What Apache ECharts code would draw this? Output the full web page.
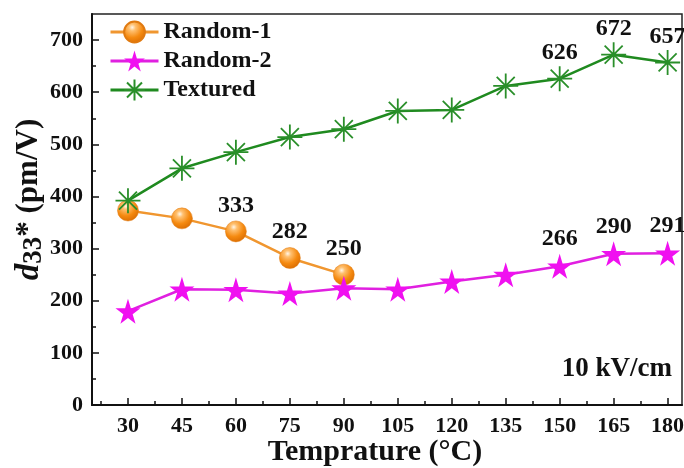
<!DOCTYPE html>
<html>
<head>
<meta charset="utf-8">
<script src="https://cdn.jsdelivr.net/npm/echarts/dist/echarts.min.js"></script>
<style>
html,body{margin:0;padding:0;background:#fff;}
#chart{width:684px;height:468px;}
</style>
</head>
<body>
<div id="chart"></div>
<script>
const temps = [30, 45, 60, 75, 90, 105, 120, 135, 150, 165, 180];
const random1 = [373, 358, 333, 282, 250];
const random2 = [180, 222, 221, 214, 224, 222, 237, 250, 266, 290, 291];
const textured = [392, 454, 485, 514, 529, 564, 566, 612, 626, 672, 657];
const random1Labels = [null, null, '333', '282', '250'];
const random2Labels = [null, null, null, null, null, null, null, null, '266', '290', '291'];
const texturedLabels = [null, null, null, null, null, null, null, null, '626', '672', '657'];
const xTicks = [30, 45, 60, 75, 90, 105, 120, 135, 150, 165, 180];
const xMinorTicks = [22.5, 37.5, 52.5, 67.5, 82.5, 97.5, 112.5, 127.5, 142.5, 157.5, 172.5];
const yTicks = [0, 100, 200, 300, 400, 500, 600, 700];
const yMinorTicks = [50, 150, 250, 350, 450, 550, 650];

const FONT = '"Liberation Serif","Times New Roman",serif';

function pairs(vals, labels) {
  return vals.map((v, i) => ({
    value: [temps[i], v],
    label: { show: labels[i] != null, formatter: labels[i] || '' }
  }));
}

const chart = echarts.init(document.getElementById('chart'));
const labelStyle = { position: 'top', distance: 3, fontFamily: FONT, fontWeight: 'bold', fontSize: 24, color: '#111' };

chart.setOption({
  animation: false,
  backgroundColor: '#fff',
  grid: { left: 92, top: 14, right: 2, bottom: 63, containLabel: false, outerBoundsMode: 'none',
          show: true, borderColor: '#222', borderWidth: 1.5, backgroundColor: 'transparent' },
  legend: {
    orient: 'vertical', left: 104, top: 15, itemWidth: 48, itemHeight: 26, itemGap: 5,
    lineStyle: { width: 3 },
    textStyle: { fontFamily: FONT, fontWeight: 'bold', fontSize: 24, color: '#111' },
    data: ['Random-1', 'Random-2', 'Textured']
  },
  xAxis: [{
    type: 'value', min: 20, max: 184,
    name: 'Temprature (°C)', nameLocation: 'middle', nameGap: 32, nameMoveOverlap: false,
    nameTextStyle: { fontFamily: FONT, fontWeight: 'bold', fontSize: 30, color: '#111', padding: [0, 24, 0, 0] },
    axisLine: { lineStyle: { color: '#111', width: 2 } },
    axisTick: { inside: true, length: 7, lineStyle: { width: 1.5, color: '#111' }, customValues: xTicks },
    axisLabel: { customValues: xTicks, margin: 10, fontFamily: FONT, fontWeight: 'bold', fontSize: 22, color: '#111' },
    splitLine: { show: false }
  }, {
    type: 'value', min: 20, max: 184, position: 'bottom',
    axisLine: { show: false },
    axisTick: { inside: true, length: 4, lineStyle: { width: 1.5, color: '#111' }, customValues: xMinorTicks },
    axisLabel: { show: false },
    splitLine: { show: false }
  }],
  yAxis: [{
    type: 'value', min: 0, max: 750,
    name: '{d|d}{s|33}{n|* (pm/V)}', nameLocation: 'middle', nameGap: 44, nameRotate: 90, nameMoveOverlap: false,
    nameTextStyle: {
      padding: [0, 0, 0, 20],
      rich: {
        d: { fontFamily: FONT, fontWeight: 'bold', fontStyle: 'italic', fontSize: 33, color: '#111', lineHeight: 38 },
        s: { fontFamily: FONT, fontWeight: 'bold', fontSize: 27, color: '#111', verticalAlign: 'bottom', lineHeight: 38 },
        n: { fontFamily: FONT, fontWeight: 'bold', fontSize: 31, color: '#111', lineHeight: 38 }
      }
    },
    axisLine: { show: true, lineStyle: { color: '#111', width: 2 } },
    axisTick: { show: true, inside: true, length: 7, lineStyle: { width: 1.5, color: '#111' }, customValues: yTicks },
    axisLabel: { customValues: yTicks, margin: 9, fontFamily: FONT, fontWeight: 'bold', fontSize: 22, color: '#111' },
    splitLine: { show: false }
  }, {
    type: 'value', min: 0, max: 750, position: 'left',
    axisLine: { show: false },
    axisTick: { show: true, inside: true, length: 4, lineStyle: { width: 1.5, color: '#111' }, customValues: yMinorTicks },
    axisLabel: { show: false },
    splitLine: { show: false }
  }],
  graphic: [{
    type: 'text', right: 12, top: 356,
    style: { text: '10 kV/cm', fontFamily: FONT, fontWeight: 'bold', fontSize: 27, fill: '#111' }
  }],
  series: [{
    name: 'Random-1', type: 'line',
    data: pairs(random1, random1Labels),
    symbol: 'circle', symbolSize: 21, showAllSymbol: true,
    lineStyle: { color: '#F0962F', width: 2.5 },
    itemStyle: {
      color: { type: 'radial', x: 0.4, y: 0.3, r: 0.75, colorStops: [
        { offset: 0, color: '#FFF6E8' }, { offset: 0.2, color: '#FFC070' },
        { offset: 0.6, color: '#F58A10' }, { offset: 1, color: '#D86A00' }] },
      borderColor: '#E07A10', borderWidth: 0.5
    },
    label: labelStyle
  }, {
    name: 'Random-2', type: 'line',
    data: pairs(random2, random2Labels),
    symbol: 'path://M50,0 L61,35 L98,35 L68,57 L79,91 L50,70 L21,91 L32,57 L2,35 L39,35 Z',
    symbolSize: 25, showAllSymbol: true,
    lineStyle: { color: '#E020E0', width: 2.5 },
    itemStyle: { color: '#F010F0' },
    label: labelStyle
  }, {
    name: 'Textured', type: 'line',
    data: pairs(textured, texturedLabels),
    symbol: 'path://M0,50 L100,50 M50,0 L50,100 M14,14 L86,86 M86,14 L14,86',
    symbolSize: 25, showAllSymbol: true,
    lineStyle: { color: '#1F8A1F', width: 2.5 },
    itemStyle: { color: 'transparent', borderColor: '#2A8F2A', borderWidth: 1.8 },
    label: Object.assign({}, labelStyle, { distance: 0 })
  }]
});
</script>
</body>
</html>
